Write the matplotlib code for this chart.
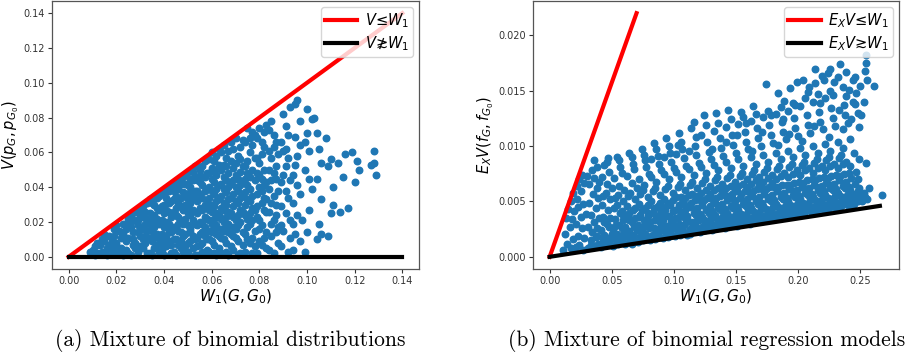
import matplotlib
matplotlib.use("Agg")
import matplotlib.pyplot as plt
import numpy as np

# (W1, V) pairs
points_a = [
    (0.010, 0.004), (0.011, 0.006), (0.012, 0.002), (0.009, 0.003), (0.012, 0.008), (0.011, 0.001),
    (0.014, 0.003), (0.015, 0.009), (0.016, 0.005), (0.013, 0.007), (0.017, 0.012), (0.016, 0.001),
    (0.015, 0.013), (0.018, 0.004), (0.014, 0.010), (0.017, 0.007),
    (0.019, 0.002), (0.020, 0.008), (0.021, 0.015), (0.022, 0.005), (0.019, 0.012), (0.020, 0.018),
    (0.022, 0.011), (0.021, 0.003), (0.023, 0.019), (0.018, 0.009), (0.022, 0.014), (0.020, 0.006),
    (0.023, 0.001), (0.019, 0.016),
    (0.024, 0.004), (0.025, 0.011), (0.026, 0.020), (0.027, 0.007), (0.024, 0.016), (0.026, 0.024),
    (0.025, 0.002), (0.027, 0.014), (0.028, 0.021), (0.024, 0.009), (0.026, 0.017), (0.028, 0.005),
    (0.025, 0.022), (0.027, 0.010), (0.023, 0.013), (0.028, 0.026), (0.026, 0.001), (0.024, 0.019),
    (0.029, 0.003), (0.030, 0.012), (0.031, 0.023), (0.032, 0.008), (0.029, 0.018), (0.031, 0.029),
    (0.033, 0.015), (0.030, 0.006), (0.032, 0.026), (0.029, 0.021), (0.031, 0.010), (0.033, 0.002),
    (0.030, 0.027), (0.032, 0.019), (0.031, 0.005), (0.033, 0.031), (0.029, 0.014), (0.032, 0.012),
    (0.030, 0.024), (0.033, 0.022), (0.031, 0.016), (0.028, 0.008),
    (0.034, 0.002), (0.035, 0.009), (0.036, 0.017), (0.037, 0.028), (0.034, 0.033), (0.036, 0.005),
    (0.035, 0.021), (0.037, 0.013), (0.038, 0.035), (0.034, 0.025), (0.036, 0.030), (0.035, 0.015),
    (0.037, 0.007), (0.038, 0.019), (0.034, 0.011), (0.036, 0.024), (0.038, 0.003), (0.035, 0.031),
    (0.037, 0.022), (0.034, 0.018), (0.038, 0.027), (0.036, 0.012), (0.035, 0.001), (0.037, 0.034),
    (0.038, 0.010), (0.036, 0.020),
    (0.039, 0.004), (0.040, 0.011), (0.041, 0.020), (0.042, 0.031), (0.039, 0.037), (0.041, 0.006),
    (0.040, 0.025), (0.042, 0.015), (0.043, 0.040), (0.039, 0.029), (0.041, 0.034), (0.040, 0.017),
    (0.042, 0.009), (0.043, 0.023), (0.039, 0.013), (0.041, 0.027), (0.043, 0.002), (0.040, 0.036),
    (0.042, 0.038), (0.039, 0.021), (0.043, 0.032), (0.041, 0.012), (0.040, 0.001), (0.042, 0.026),
    (0.043, 0.014), (0.041, 0.039), (0.039, 0.008), (0.042, 0.019), (0.040, 0.030), (0.043, 0.007),
    (0.044, 0.003), (0.045, 0.010), (0.046, 0.019), (0.047, 0.029), (0.044, 0.038), (0.046, 0.044),
    (0.045, 0.024), (0.047, 0.014), (0.048, 0.046), (0.044, 0.033), (0.046, 0.007), (0.045, 0.040),
    (0.047, 0.021), (0.048, 0.012), (0.044, 0.017), (0.046, 0.031), (0.048, 0.003), (0.045, 0.035),
    (0.047, 0.042), (0.044, 0.026), (0.048, 0.037), (0.046, 0.015), (0.045, 0.001), (0.047, 0.005),
    (0.048, 0.027), (0.044, 0.042), (0.046, 0.023), (0.045, 0.016), (0.047, 0.034), (0.048, 0.019),
    (0.044, 0.010), (0.046, 0.039), (0.045, 0.028), (0.047, 0.009),
    (0.049, 0.002), (0.050, 0.008), (0.051, 0.016), (0.052, 0.027), (0.049, 0.036), (0.051, 0.045),
    (0.050, 0.049), (0.052, 0.012), (0.053, 0.052), (0.049, 0.022), (0.051, 0.031), (0.050, 0.041),
    (0.052, 0.005), (0.053, 0.019), (0.049, 0.013), (0.051, 0.024), (0.053, 0.038), (0.050, 0.029),
    (0.052, 0.044), (0.049, 0.047), (0.053, 0.033), (0.051, 0.009), (0.050, 0.018), (0.052, 0.035),
    (0.053, 0.001), (0.049, 0.030), (0.051, 0.040), (0.050, 0.003), (0.052, 0.021), (0.053, 0.046),
    (0.049, 0.042), (0.051, 0.014), (0.050, 0.025), (0.052, 0.049), (0.053, 0.010), (0.049, 0.006),
    (0.051, 0.037), (0.050, 0.033),
    (0.054, 0.001), (0.055, 0.007), (0.056, 0.014), (0.057, 0.023), (0.054, 0.032), (0.056, 0.041),
    (0.055, 0.050), (0.057, 0.055), (0.058, 0.010), (0.054, 0.018), (0.056, 0.027), (0.055, 0.036),
    (0.057, 0.046), (0.058, 0.004), (0.054, 0.025), (0.056, 0.052), (0.055, 0.020), (0.057, 0.030),
    (0.058, 0.039), (0.054, 0.044), (0.056, 0.008), (0.055, 0.013), (0.057, 0.017), (0.058, 0.048),
    (0.054, 0.038), (0.056, 0.034), (0.055, 0.028), (0.057, 0.002), (0.058, 0.022), (0.054, 0.011),
    (0.056, 0.019), (0.055, 0.043), (0.057, 0.038), (0.058, 0.031), (0.054, 0.052), (0.056, 0.003),
    (0.055, 0.047), (0.057, 0.012), (0.058, 0.056), (0.054, 0.006),
    (0.059, 0.003), (0.060, 0.009), (0.061, 0.016), (0.062, 0.025), (0.059, 0.034), (0.061, 0.043),
    (0.060, 0.051), (0.062, 0.058), (0.063, 0.012), (0.059, 0.021), (0.061, 0.029), (0.060, 0.038),
    (0.062, 0.047), (0.063, 0.005), (0.059, 0.027), (0.061, 0.055), (0.060, 0.019), (0.062, 0.032),
    (0.063, 0.041), (0.059, 0.048), (0.061, 0.007), (0.060, 0.014), (0.062, 0.018), (0.063, 0.053),
    (0.059, 0.040), (0.061, 0.036), (0.060, 0.030), (0.062, 0.001), (0.063, 0.024), (0.059, 0.010),
    (0.061, 0.022), (0.060, 0.045), (0.062, 0.039), (0.063, 0.033), (0.059, 0.056), (0.061, 0.002),
    (0.060, 0.060), (0.062, 0.013), (0.063, 0.062), (0.059, 0.015), (0.061, 0.050), (0.060, 0.026),
    (0.064, 0.002), (0.065, 0.010), (0.066, 0.017), (0.067, 0.026), (0.064, 0.035), (0.066, 0.044),
    (0.065, 0.053), (0.067, 0.061), (0.068, 0.013), (0.064, 0.022), (0.066, 0.030), (0.065, 0.039),
    (0.067, 0.048), (0.068, 0.006), (0.064, 0.028), (0.066, 0.057), (0.065, 0.020), (0.067, 0.033),
    (0.068, 0.042), (0.064, 0.050), (0.066, 0.008), (0.065, 0.015), (0.067, 0.019), (0.068, 0.055),
    (0.064, 0.042), (0.066, 0.037), (0.065, 0.031), (0.067, 0.001), (0.068, 0.025), (0.064, 0.011),
    (0.066, 0.023), (0.065, 0.046), (0.067, 0.040), (0.068, 0.034), (0.064, 0.060), (0.066, 0.003),
    (0.065, 0.064), (0.067, 0.014), (0.068, 0.066), (0.064, 0.016), (0.066, 0.052), (0.065, 0.027),
    (0.069, 0.004), (0.070, 0.011), (0.071, 0.018), (0.072, 0.027), (0.069, 0.036), (0.071, 0.045),
    (0.070, 0.054), (0.072, 0.063), (0.073, 0.014), (0.069, 0.023), (0.071, 0.031), (0.070, 0.040),
    (0.072, 0.049), (0.073, 0.007), (0.069, 0.029), (0.071, 0.058), (0.070, 0.021), (0.072, 0.034),
    (0.073, 0.043), (0.069, 0.051), (0.071, 0.009), (0.070, 0.016), (0.072, 0.020), (0.073, 0.067),
    (0.069, 0.044), (0.071, 0.038), (0.070, 0.032), (0.072, 0.002), (0.073, 0.026), (0.069, 0.012),
    (0.071, 0.024), (0.070, 0.047), (0.072, 0.041), (0.073, 0.035), (0.069, 0.062), (0.071, 0.001),
    (0.070, 0.068), (0.072, 0.056), (0.073, 0.052), (0.069, 0.017),
    (0.074, 0.003), (0.075, 0.010), (0.076, 0.019), (0.077, 0.028), (0.074, 0.037), (0.076, 0.046),
    (0.075, 0.055), (0.077, 0.064), (0.078, 0.015), (0.074, 0.024), (0.076, 0.032), (0.075, 0.041),
    (0.077, 0.050), (0.078, 0.006), (0.074, 0.030), (0.076, 0.060), (0.075, 0.022), (0.077, 0.035),
    (0.078, 0.044), (0.074, 0.052), (0.076, 0.008), (0.075, 0.017), (0.077, 0.021), (0.078, 0.070),
    (0.074, 0.045), (0.076, 0.039), (0.075, 0.033), (0.077, 0.002), (0.078, 0.027), (0.074, 0.013),
    (0.076, 0.025), (0.075, 0.048), (0.077, 0.072), (0.078, 0.057), (0.074, 0.066), (0.076, 0.068),
    (0.075, 0.074), (0.077, 0.011),
    (0.079, 0.002), (0.080, 0.009), (0.081, 0.018), (0.082, 0.027), (0.079, 0.036), (0.081, 0.045),
    (0.080, 0.054), (0.082, 0.063), (0.083, 0.014), (0.079, 0.023), (0.081, 0.031), (0.080, 0.040),
    (0.082, 0.050), (0.083, 0.005), (0.079, 0.029), (0.081, 0.059), (0.080, 0.021), (0.082, 0.034),
    (0.083, 0.043), (0.079, 0.068), (0.081, 0.007), (0.080, 0.016), (0.082, 0.072), (0.083, 0.076),
    (0.079, 0.048), (0.081, 0.038), (0.080, 0.074), (0.082, 0.011), (0.083, 0.026), (0.079, 0.057),
    (0.081, 0.066), (0.080, 0.047), (0.082, 0.041), (0.083, 0.033),
    (0.084, 0.004), (0.085, 0.012), (0.086, 0.021), (0.087, 0.030), (0.084, 0.039), (0.086, 0.048),
    (0.085, 0.057), (0.087, 0.066), (0.088, 0.017), (0.084, 0.026), (0.086, 0.035), (0.085, 0.044),
    (0.087, 0.052), (0.088, 0.008), (0.084, 0.061), (0.086, 0.070), (0.085, 0.078), (0.087, 0.024),
    (0.088, 0.038), (0.084, 0.050), (0.086, 0.002), (0.085, 0.031), (0.087, 0.014), (0.088, 0.059),
    (0.084, 0.073), (0.086, 0.063), (0.085, 0.019), (0.087, 0.045),
    (0.089, 0.006), (0.090, 0.015), (0.091, 0.025), (0.092, 0.034), (0.089, 0.043), (0.091, 0.052),
    (0.090, 0.061), (0.092, 0.070), (0.093, 0.011), (0.089, 0.029), (0.091, 0.038), (0.090, 0.047),
    (0.092, 0.057), (0.093, 0.021), (0.089, 0.066), (0.091, 0.075), (0.090, 0.082), (0.092, 0.003),
    (0.093, 0.044), (0.089, 0.018), (0.091, 0.062), (0.093, 0.086),
    (0.094, 0.004), (0.095, 0.013), (0.096, 0.024), (0.097, 0.036), (0.094, 0.047), (0.096, 0.058),
    (0.095, 0.069), (0.097, 0.078), (0.095, 0.088), (0.096, 0.090), (0.094, 0.031), (0.097, 0.009),
    (0.096, 0.041), (0.095, 0.053), (0.097, 0.064), (0.094, 0.019),
    (0.099, 0.003), (0.100, 0.014), (0.101, 0.027), (0.102, 0.039), (0.099, 0.050), (0.101, 0.061),
    (0.100, 0.071), (0.102, 0.079), (0.100, 0.085), (0.098, 0.021), (0.101, 0.045), (0.099, 0.066),
    (0.104, 0.010), (0.105, 0.019), (0.106, 0.033), (0.104, 0.045), (0.106, 0.054), (0.105, 0.062),
    (0.103, 0.080), (0.106, 0.013), (0.104, 0.071),
    (0.109, 0.012), (0.110, 0.025), (0.111, 0.040), (0.109, 0.052), (0.110, 0.056), (0.108, 0.068),
    (0.111, 0.030),
    (0.114, 0.026), (0.115, 0.046), (0.116, 0.059), (0.113, 0.054), (0.117, 0.028),
    (0.119, 0.060), (0.121, 0.055), (0.120, 0.043), (0.122, 0.050),
    (0.127, 0.053), (0.128, 0.061), (0.128, 0.054), (0.129, 0.047),
]

# (W1, E_X V) pairs
points_b = [
    (0.011, 0.0006), (0.012, 0.0021), (0.013, 0.0035), (0.014, 0.0012), (0.015, 0.0043), (0.016, 0.0027),
    (0.017, 0.0008), (0.017, 0.0050), (0.018, 0.0034), (0.019, 0.0016), (0.019, 0.0058), (0.020, 0.0041),
    (0.021, 0.0009), (0.021, 0.0030), (0.022, 0.0052), (0.022, 0.0064), (0.023, 0.0019), (0.023, 0.0045),
    (0.024, 0.0070), (0.024, 0.0011), (0.025, 0.0036), (0.025, 0.0059), (0.026, 0.0026), (0.026, 0.0074),
    (0.027, 0.0006), (0.027, 0.0048), (0.028, 0.0067), (0.028, 0.0017), (0.029, 0.0039), (0.030, 0.0073),
    (0.031, 0.0008), (0.031, 0.0027), (0.032, 0.0049), (0.032, 0.0066), (0.033, 0.0015), (0.033, 0.0038),
    (0.034, 0.0078), (0.034, 0.0022), (0.035, 0.0057), (0.035, 0.0010), (0.036, 0.0031), (0.036, 0.0071),
    (0.037, 0.0044), (0.037, 0.0018), (0.038, 0.0062), (0.038, 0.0081), (0.038, 0.0026), (0.039, 0.0012),
    (0.039, 0.0053), (0.040, 0.0035), (0.040, 0.0068), (0.036, 0.0087),
    (0.041, 0.0009), (0.041, 0.0024), (0.042, 0.0047), (0.042, 0.0072), (0.043, 0.0015), (0.043, 0.0036),
    (0.044, 0.0083), (0.044, 0.0020), (0.045, 0.0058), (0.045, 0.0011), (0.046, 0.0030), (0.046, 0.0066),
    (0.047, 0.0042), (0.047, 0.0017), (0.047, 0.0089), (0.048, 0.0077), (0.048, 0.0027), (0.048, 0.0013),
    (0.049, 0.0052), (0.049, 0.0035), (0.050, 0.0062), (0.050, 0.0021), (0.043, 0.0055), (0.046, 0.0086),
    (0.051, 0.0010), (0.051, 0.0025), (0.052, 0.0044), (0.052, 0.0071), (0.053, 0.0016), (0.053, 0.0034),
    (0.054, 0.0090), (0.054, 0.0021), (0.055, 0.0056), (0.055, 0.0012), (0.056, 0.0029), (0.056, 0.0064),
    (0.057, 0.0040), (0.057, 0.0018), (0.057, 0.0081), (0.058, 0.0076), (0.058, 0.0026), (0.058, 0.0014),
    (0.059, 0.0050), (0.059, 0.0033), (0.060, 0.0060), (0.060, 0.0022), (0.053, 0.0053), (0.056, 0.0087),
    (0.054, 0.0047), (0.059, 0.0038),
    (0.061, 0.0012), (0.061, 0.0027), (0.062, 0.0046), (0.062, 0.0073), (0.063, 0.0018), (0.063, 0.0036),
    (0.064, 0.0094), (0.064, 0.0023), (0.065, 0.0058), (0.065, 0.0013), (0.066, 0.0031), (0.066, 0.0067),
    (0.067, 0.0042), (0.067, 0.0020), (0.067, 0.0084), (0.068, 0.0079), (0.068, 0.0028), (0.068, 0.0015),
    (0.069, 0.0052), (0.069, 0.0035), (0.070, 0.0062), (0.070, 0.0024), (0.063, 0.0055), (0.066, 0.0090),
    (0.064, 0.0040), (0.069, 0.0044),
    (0.071, 0.0013), (0.071, 0.0029), (0.072, 0.0048), (0.072, 0.0070), (0.073, 0.0019), (0.073, 0.0038),
    (0.074, 0.0097), (0.074, 0.0024), (0.075, 0.0060), (0.075, 0.0015), (0.076, 0.0033), (0.076, 0.0065),
    (0.077, 0.0044), (0.077, 0.0021), (0.077, 0.0087), (0.078, 0.0081), (0.078, 0.0030), (0.078, 0.0016),
    (0.079, 0.0054), (0.079, 0.0037), (0.080, 0.0075), (0.080, 0.0026), (0.073, 0.0057), (0.076, 0.0092),
    (0.074, 0.0042), (0.079, 0.0047),
    (0.081, 0.0015), (0.081, 0.0031), (0.082, 0.0050), (0.082, 0.0072), (0.083, 0.0020), (0.083, 0.0040),
    (0.084, 0.0103), (0.084, 0.0026), (0.085, 0.0062), (0.085, 0.0016), (0.086, 0.0035), (0.086, 0.0068),
    (0.087, 0.0046), (0.087, 0.0022), (0.087, 0.0091), (0.088, 0.0084), (0.088, 0.0032), (0.088, 0.0018),
    (0.089, 0.0056), (0.089, 0.0039), (0.090, 0.0078), (0.090, 0.0028), (0.083, 0.0059), (0.086, 0.0097),
    (0.084, 0.0044), (0.089, 0.0049), (0.082, 0.0088), (0.087, 0.0025),
    (0.091, 0.0017), (0.091, 0.0033), (0.092, 0.0052), (0.092, 0.0075), (0.093, 0.0022), (0.093, 0.0042),
    (0.094, 0.0107), (0.094, 0.0028), (0.095, 0.0064), (0.095, 0.0018), (0.096, 0.0037), (0.096, 0.0070),
    (0.097, 0.0047), (0.097, 0.0024), (0.097, 0.0094), (0.098, 0.0086), (0.098, 0.0034), (0.098, 0.0020),
    (0.099, 0.0058), (0.099, 0.0041), (0.100, 0.0080), (0.100, 0.0029), (0.093, 0.0061), (0.096, 0.0100),
    (0.094, 0.0046), (0.099, 0.0051), (0.092, 0.0090), (0.097, 0.0027),
    (0.101, 0.0019), (0.101, 0.0035), (0.102, 0.0054), (0.102, 0.0077), (0.103, 0.0023), (0.103, 0.0043),
    (0.104, 0.0112), (0.104, 0.0030), (0.105, 0.0066), (0.105, 0.0020), (0.106, 0.0039), (0.106, 0.0072),
    (0.107, 0.0049), (0.107, 0.0026), (0.107, 0.0097), (0.108, 0.0089), (0.108, 0.0036), (0.108, 0.0022),
    (0.109, 0.0060), (0.109, 0.0042), (0.110, 0.0082), (0.110, 0.0031), (0.103, 0.0063), (0.106, 0.0104),
    (0.104, 0.0047), (0.109, 0.0053), (0.102, 0.0093), (0.107, 0.0028),
    (0.111, 0.0020), (0.111, 0.0037), (0.112, 0.0056), (0.112, 0.0079), (0.113, 0.0025), (0.113, 0.0045),
    (0.114, 0.0116), (0.114, 0.0031), (0.115, 0.0068), (0.115, 0.0022), (0.116, 0.0040), (0.116, 0.0074),
    (0.117, 0.0051), (0.117, 0.0028), (0.117, 0.0100), (0.118, 0.0092), (0.118, 0.0038), (0.118, 0.0024),
    (0.119, 0.0062), (0.119, 0.0044), (0.120, 0.0085), (0.120, 0.0033), (0.113, 0.0065), (0.116, 0.0122),
    (0.114, 0.0049), (0.119, 0.0055), (0.112, 0.0096), (0.117, 0.0030),
    (0.121, 0.0022), (0.121, 0.0039), (0.122, 0.0058), (0.122, 0.0081), (0.123, 0.0027), (0.123, 0.0047),
    (0.124, 0.0128), (0.124, 0.0033), (0.125, 0.0070), (0.125, 0.0024), (0.126, 0.0042), (0.126, 0.0076),
    (0.127, 0.0053), (0.127, 0.0030), (0.127, 0.0104), (0.128, 0.0095), (0.128, 0.0040), (0.128, 0.0026),
    (0.129, 0.0064), (0.129, 0.0046), (0.130, 0.0088), (0.130, 0.0035), (0.123, 0.0067), (0.126, 0.0119),
    (0.124, 0.0051), (0.129, 0.0057), (0.122, 0.0110), (0.127, 0.0032),
    (0.131, 0.0024), (0.131, 0.0041), (0.132, 0.0060), (0.132, 0.0083), (0.133, 0.0029), (0.133, 0.0049),
    (0.134, 0.0130), (0.134, 0.0035), (0.135, 0.0072), (0.135, 0.0026), (0.136, 0.0044), (0.136, 0.0078),
    (0.137, 0.0055), (0.137, 0.0032), (0.137, 0.0107), (0.138, 0.0098), (0.138, 0.0042), (0.138, 0.0028),
    (0.139, 0.0066), (0.139, 0.0048), (0.140, 0.0091), (0.140, 0.0037), (0.133, 0.0069), (0.136, 0.0121),
    (0.134, 0.0053), (0.139, 0.0059), (0.132, 0.0114), (0.137, 0.0034),
    (0.141, 0.0026), (0.141, 0.0043), (0.142, 0.0062), (0.142, 0.0086), (0.143, 0.0031), (0.143, 0.0051),
    (0.144, 0.0133), (0.144, 0.0037), (0.145, 0.0074), (0.145, 0.0028), (0.146, 0.0046), (0.146, 0.0080),
    (0.147, 0.0057), (0.147, 0.0034), (0.147, 0.0110), (0.148, 0.0101), (0.148, 0.0044), (0.148, 0.0030),
    (0.149, 0.0068), (0.149, 0.0050), (0.150, 0.0094), (0.150, 0.0039), (0.143, 0.0071), (0.146, 0.0124),
    (0.144, 0.0055), (0.149, 0.0061), (0.142, 0.0117), (0.147, 0.0036),
    (0.151, 0.0028), (0.151, 0.0045), (0.152, 0.0064), (0.152, 0.0088), (0.153, 0.0033), (0.153, 0.0053),
    (0.154, 0.0131), (0.154, 0.0039), (0.155, 0.0076), (0.155, 0.0030), (0.156, 0.0048), (0.156, 0.0082),
    (0.157, 0.0059), (0.157, 0.0036), (0.157, 0.0113), (0.158, 0.0104), (0.158, 0.0046), (0.158, 0.0032),
    (0.159, 0.0070), (0.159, 0.0052), (0.160, 0.0097), (0.160, 0.0041), (0.153, 0.0073), (0.156, 0.0126),
    (0.154, 0.0057), (0.159, 0.0063), (0.152, 0.0120), (0.157, 0.0038),
    (0.161, 0.0030), (0.161, 0.0047), (0.162, 0.0066), (0.162, 0.0090), (0.163, 0.0035), (0.163, 0.0055),
    (0.164, 0.0136), (0.164, 0.0041), (0.165, 0.0078), (0.165, 0.0032), (0.166, 0.0050), (0.166, 0.0084),
    (0.167, 0.0061), (0.167, 0.0038), (0.167, 0.0116), (0.168, 0.0107), (0.168, 0.0048), (0.168, 0.0034),
    (0.169, 0.0072), (0.169, 0.0054), (0.170, 0.0100), (0.170, 0.0043), (0.163, 0.0075), (0.166, 0.0129),
    (0.164, 0.0059), (0.169, 0.0065), (0.162, 0.0123), (0.167, 0.0040),
    (0.171, 0.0032), (0.171, 0.0049), (0.172, 0.0068), (0.172, 0.0092), (0.173, 0.0037), (0.173, 0.0057),
    (0.174, 0.0156), (0.174, 0.0043), (0.175, 0.0080), (0.175, 0.0034), (0.176, 0.0052), (0.176, 0.0086),
    (0.177, 0.0063), (0.177, 0.0040), (0.177, 0.0119), (0.178, 0.0110), (0.178, 0.0050), (0.178, 0.0036),
    (0.179, 0.0074), (0.179, 0.0056), (0.180, 0.0103), (0.180, 0.0045), (0.173, 0.0077), (0.176, 0.0132),
    (0.174, 0.0061), (0.179, 0.0067), (0.172, 0.0126), (0.177, 0.0042),
    (0.181, 0.0034), (0.181, 0.0051), (0.182, 0.0070), (0.182, 0.0094), (0.183, 0.0039), (0.183, 0.0059),
    (0.184, 0.0148), (0.184, 0.0045), (0.185, 0.0082), (0.185, 0.0036), (0.186, 0.0054), (0.186, 0.0088),
    (0.187, 0.0065), (0.187, 0.0042), (0.187, 0.0122), (0.188, 0.0113), (0.188, 0.0052), (0.188, 0.0038),
    (0.189, 0.0076), (0.189, 0.0058), (0.190, 0.0106), (0.190, 0.0047), (0.183, 0.0079), (0.186, 0.0135),
    (0.184, 0.0063), (0.189, 0.0141), (0.182, 0.0129), (0.187, 0.0044),
    (0.191, 0.0036), (0.191, 0.0053), (0.192, 0.0072), (0.192, 0.0096), (0.193, 0.0041), (0.193, 0.0061),
    (0.194, 0.0152), (0.194, 0.0047), (0.195, 0.0084), (0.195, 0.0038), (0.196, 0.0056), (0.196, 0.0090),
    (0.197, 0.0067), (0.197, 0.0044), (0.197, 0.0125), (0.198, 0.0116), (0.198, 0.0054), (0.198, 0.0040),
    (0.199, 0.0078), (0.199, 0.0060), (0.200, 0.0109), (0.200, 0.0049), (0.193, 0.0081), (0.196, 0.0139),
    (0.194, 0.0065), (0.199, 0.0158), (0.192, 0.0132), (0.197, 0.0046),
    (0.201, 0.0038), (0.201, 0.0055), (0.202, 0.0074), (0.202, 0.0098), (0.203, 0.0043), (0.203, 0.0063),
    (0.204, 0.0160), (0.204, 0.0049), (0.205, 0.0086), (0.205, 0.0040), (0.206, 0.0058), (0.206, 0.0092),
    (0.207, 0.0069), (0.207, 0.0046), (0.207, 0.0128), (0.208, 0.0119), (0.208, 0.0056), (0.208, 0.0042),
    (0.209, 0.0080), (0.209, 0.0062), (0.210, 0.0112), (0.210, 0.0051), (0.203, 0.0083), (0.206, 0.0143),
    (0.204, 0.0067), (0.209, 0.0153), (0.202, 0.0136), (0.207, 0.0048),
    (0.211, 0.0040), (0.211, 0.0057), (0.212, 0.0076), (0.212, 0.0100), (0.213, 0.0045), (0.213, 0.0065),
    (0.214, 0.0170), (0.214, 0.0051), (0.215, 0.0088), (0.215, 0.0042), (0.216, 0.0060), (0.216, 0.0094),
    (0.217, 0.0071), (0.217, 0.0048), (0.217, 0.0131), (0.218, 0.0122), (0.218, 0.0058), (0.218, 0.0044),
    (0.219, 0.0082), (0.219, 0.0064), (0.220, 0.0115), (0.220, 0.0053), (0.213, 0.0085), (0.216, 0.0147),
    (0.214, 0.0069), (0.219, 0.0163), (0.212, 0.0140), (0.217, 0.0050),
    (0.221, 0.0042), (0.221, 0.0059), (0.222, 0.0078), (0.222, 0.0102), (0.223, 0.0047), (0.223, 0.0067),
    (0.224, 0.0166), (0.224, 0.0053), (0.225, 0.0090), (0.225, 0.0044), (0.226, 0.0062), (0.226, 0.0096),
    (0.227, 0.0073), (0.227, 0.0050), (0.227, 0.0134), (0.228, 0.0125), (0.228, 0.0060), (0.228, 0.0046),
    (0.229, 0.0084), (0.229, 0.0066), (0.230, 0.0118), (0.230, 0.0055), (0.223, 0.0087), (0.226, 0.0150),
    (0.224, 0.0071), (0.229, 0.0158), (0.222, 0.0143), (0.227, 0.0052),
    (0.231, 0.0044), (0.231, 0.0061), (0.232, 0.0080), (0.232, 0.0104), (0.233, 0.0049), (0.233, 0.0069),
    (0.234, 0.0174), (0.234, 0.0055), (0.235, 0.0092), (0.235, 0.0046), (0.236, 0.0064), (0.236, 0.0098),
    (0.237, 0.0075), (0.237, 0.0052), (0.237, 0.0137), (0.238, 0.0128), (0.238, 0.0062), (0.238, 0.0048),
    (0.239, 0.0086), (0.239, 0.0068), (0.240, 0.0121), (0.240, 0.0057), (0.233, 0.0089), (0.236, 0.0153),
    (0.234, 0.0073), (0.239, 0.0145), (0.232, 0.0162), (0.237, 0.0054),
    (0.241, 0.0046), (0.241, 0.0063), (0.242, 0.0082), (0.242, 0.0106), (0.243, 0.0051), (0.243, 0.0071),
    (0.244, 0.0160), (0.244, 0.0057), (0.245, 0.0094), (0.245, 0.0048), (0.246, 0.0066), (0.246, 0.0138),
    (0.247, 0.0077), (0.247, 0.0054), (0.247, 0.0148), (0.248, 0.0130), (0.248, 0.0059), (0.248, 0.0050),
    (0.249, 0.0088), (0.249, 0.0117), (0.250, 0.0154), (0.250, 0.0056), (0.243, 0.0124), (0.246, 0.0162),
    (0.252, 0.0050), (0.253, 0.0058), (0.253, 0.0140), (0.254, 0.0054), (0.255, 0.0175), (0.255, 0.0182),
    (0.255, 0.0085), (0.256, 0.0052), (0.256, 0.0160), (0.257, 0.0062), (0.254, 0.0168), (0.261, 0.0154),
    (0.268, 0.0056),
    # extra points filling the dense band just above the lower line
    (0.033, 0.0011), (0.038, 0.0019), (0.044, 0.0031), (0.049, 0.0016), (0.053, 0.0028), (0.058, 0.0041),
    (0.061, 0.0019), (0.064, 0.0033), (0.066, 0.0012), (0.069, 0.0027), (0.072, 0.0036), (0.074, 0.0017),
    (0.077, 0.0029), (0.079, 0.0040), (0.082, 0.0019), (0.085, 0.0033), (0.086, 0.0024), (0.089, 0.0043),
    (0.091, 0.0026), (0.093, 0.0037), (0.095, 0.0021), (0.096, 0.0049), (0.098, 0.0031), (0.101, 0.0042),
    (0.102, 0.0025), (0.104, 0.0036), (0.106, 0.0054), (0.108, 0.0029), (0.109, 0.0047), (0.111, 0.0033),
    (0.113, 0.0021), (0.115, 0.0057), (0.116, 0.0031), (0.118, 0.0043), (0.119, 0.0026), (0.121, 0.0051),
    (0.123, 0.0036), (0.125, 0.0029), (0.126, 0.0060), (0.128, 0.0044), (0.129, 0.0031), (0.131, 0.0052),
    (0.133, 0.0038), (0.134, 0.0027), (0.136, 0.0062), (0.138, 0.0047), (0.139, 0.0033), (0.141, 0.0056),
    (0.143, 0.0040), (0.144, 0.0029), (0.146, 0.0064), (0.148, 0.0052), (0.149, 0.0034), (0.151, 0.0059),
    (0.152, 0.0042), (0.154, 0.0031), (0.156, 0.0066), (0.157, 0.0049), (0.159, 0.0036), (0.161, 0.0058),
    (0.162, 0.0044), (0.164, 0.0033), (0.166, 0.0069), (0.167, 0.0051), (0.169, 0.0038), (0.171, 0.0061),
    (0.172, 0.0046), (0.174, 0.0035), (0.176, 0.0071), (0.177, 0.0054), (0.179, 0.0040), (0.181, 0.0063),
    (0.182, 0.0048), (0.184, 0.0037), (0.186, 0.0073), (0.187, 0.0057), (0.189, 0.0042), (0.191, 0.0065),
    (0.192, 0.0050), (0.194, 0.0039), (0.196, 0.0075), (0.197, 0.0059), (0.199, 0.0044), (0.201, 0.0068),
    (0.202, 0.0052), (0.204, 0.0041), (0.206, 0.0078), (0.207, 0.0061), (0.209, 0.0046), (0.211, 0.0070),
    (0.212, 0.0054), (0.214, 0.0043), (0.216, 0.0080), (0.217, 0.0063), (0.219, 0.0048), (0.221, 0.0072),
    (0.222, 0.0056), (0.224, 0.0045), (0.226, 0.0082), (0.227, 0.0065), (0.229, 0.0050), (0.231, 0.0074),
    (0.232, 0.0058), (0.234, 0.0047), (0.236, 0.0084), (0.237, 0.0067), (0.239, 0.0052), (0.241, 0.0076),
    (0.242, 0.0060), (0.244, 0.0049), (0.246, 0.0053), (0.248, 0.0070), (0.251, 0.0057), (0.249, 0.0062),
    # extra points in the upper part of the cloud
    (0.103, 0.0101), (0.118, 0.0108), (0.131, 0.0097), (0.142, 0.0104), (0.151, 0.0110), (0.158, 0.0121),
    (0.163, 0.0096), (0.171, 0.0113), (0.178, 0.0128), (0.184, 0.0101), (0.188, 0.0124), (0.193, 0.0111),
    (0.198, 0.0137), (0.203, 0.0105), (0.208, 0.0149), (0.213, 0.0118), (0.218, 0.0139), (0.221, 0.0160),
    (0.225, 0.0108), (0.228, 0.0146), (0.233, 0.0133), (0.236, 0.0115), (0.241, 0.0151), (0.244, 0.0140),
    (0.251, 0.0128), (0.214, 0.0157), (0.226, 0.0170), (0.239, 0.0167),
]

# reference lines: end points
upper_a_x = [0.0, 0.14]
upper_a_y = [0.0, 0.14]
lower_a_x = [0.0, 0.14]
lower_a_y = [0.0, 0.0]
upper_b_x = [0.0, 0.07]
upper_b_y = [0.0, 0.022]
lower_b_x = [0.0, 0.266]
lower_b_y = [0.0, 0.0046]

labels_a = [r'$V$≤$W_1$', r'$V$≵$W_1$']
labels_b = [r'$E_XV$≤$W_1$', r'$E_XV$≳$W_1$']
captions = ['(a) Mixture of binomial distributions',
            '(b) Mixture of binomial regression models']

fig = plt.figure(figsize=(9.15, 3.62), dpi=100)
ax1 = fig.add_axes([52 / 915, 93 / 362, 367 / 915, 268 / 362])
ax2 = fig.add_axes([533 / 915, 93 / 362, 366 / 915, 268 / 362])

pa = np.array(points_a)
pb = np.array(points_b)

ax1.scatter(pa[:, 0], pa[:, 1], s=22, color='#1f77b4')
ax1.plot(upper_a_x, upper_a_y, color='red', lw=3, label=labels_a[0])
ax1.plot(lower_a_x, lower_a_y, color='black', lw=3, label=labels_a[1])
ax1.set_xlabel(r'$W_1(G, G_0)$', fontsize=11, labelpad=1)
ax1.set_ylabel(r'$V(p_G, p_{G_0})$', fontsize=10.5, labelpad=2)

ax2.scatter(pb[:, 0], pb[:, 1], s=22, color='#1f77b4')
ax2.plot(upper_b_x, upper_b_y, color='red', lw=3, label=labels_b[0])
ax2.plot(lower_b_x, lower_b_y, color='black', lw=3, label=labels_b[1])
ax2.set_xlabel(r'$W_1(G, G_0)$', fontsize=11, labelpad=1)
ax2.set_ylabel(r'$E_X V(f_G, f_{G_0})$', fontsize=10.5, labelpad=2)

for ax in (ax1, ax2):
    ax.tick_params(labelsize=7, length=3, pad=2, colors='#333333')
    for sp in ax.spines.values():
        sp.set_color('#555555')
        sp.set_linewidth(0.9)
    ax.legend(loc='upper right', fontsize=10.5, handlelength=2.2,
              handletextpad=0.5, borderpad=0.3,
              borderaxespad=0.4, labelspacing=0.3)

fig.text(230 / 915, 1 - 341 / 362, captions[0], family='cmr10', fontsize=15.5,
         ha='center', va='center')
fig.text(707 / 915, 1 - 341 / 362, captions[1], family='cmr10', fontsize=15.5,
         ha='center', va='center')

fig.savefig('out.png', dpi=100)
